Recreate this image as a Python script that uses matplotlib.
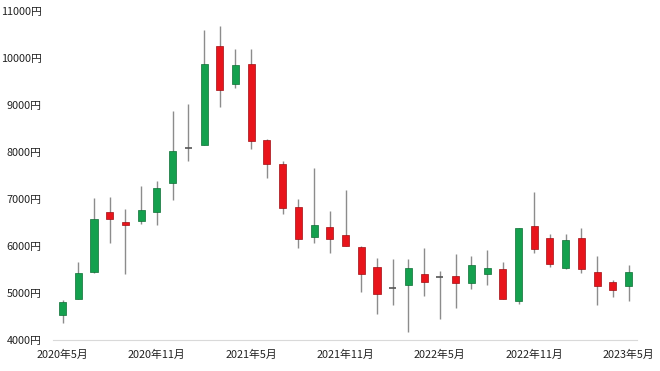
import matplotlib.pyplot as plt
import matplotlib as mpl

plt.rcParams['font.family'] = ['Noto Sans CJK JP', 'DejaVu Sans']
plt.rcParams['font.size'] = 7.8

# monthly OHLC, 2020-05 .. 2023-05
opens = [4540, 4880, 5440, 6720, 6500, 6530, 6720, 7330, 8085, 8150,
         10260, 9450, 9880, 8250, 7750, 6820, 6200, 6395, 6235, 5975,
         5545, 5112, 5160, 5410, 5340, 5355, 5205, 5400, 5500, 4835,
         6415, 6170, 5525, 6160, 5455, 5225, 5150]
highs = [4860, 5655, 7030, 7050, 6780, 7280, 7380, 8880, 9020, 10600,
         10670, 10200, 10180, 8280, 7815, 7000, 7665, 6740, 7185, 5995,
         5735, 5720, 5725, 5950, 5460, 5825, 5780, 5905, 5660, 6380,
         7150, 6265, 6245, 6380, 5780, 5285, 5590]
lows = [4360, 4870, 5430, 6070, 5400, 6460, 6440, 6980, 7810, 8140,
        8960, 9360, 8070, 7440, 6685, 5960, 6055, 5860, 5990, 5030,
        4560, 4735, 4180, 4935, 4450, 4670, 5085, 5165, 4875, 4760,
        5855, 5555, 5520, 5425, 4735, 4915, 4830]
closes = [4800, 5425, 6570, 6570, 6440, 6760, 7240, 8030, 8085, 9870,
          9320, 9850, 8240, 7745, 6810, 6150, 6440, 6145, 5995, 5405,
          4985, 5112, 5540, 5240, 5340, 5205, 5585, 5540, 4880, 6375,
          5925, 5620, 6125, 5500, 5150, 5065, 5445]
tick_pos = [0, 6, 12, 18, 24, 30, 36]
tick_labels = ['2020年5月', '2020年11月', '2021年5月', '2021年11月',
               '2022年5月', '2022年11月', '2023年5月']
yticks = [4000, 5000, 6000, 7000, 8000, 9000, 10000, 11000]

green = '#14a04e'
red = '#e8141b'

fig = plt.figure(figsize=(6.6, 3.71), dpi=100)
ax = fig.add_axes([0.080, 0.0836, 0.885, 0.887])

x = list(range(len(opens)))
ax.vlines(x, lows, highs, color='#8c8c8c', linewidth=1.0, zorder=1)

for i in x:
    o, c = opens[i], closes[i]
    if o == c:
        ax.hlines(o, i - 0.22, i + 0.22, color='#555555', linewidth=1.2,
                  zorder=2)
        continue
    col = green if c > o else red
    edge = '#0d6e35' if c > o else '#a00d12'
    ax.bar(i, abs(c - o), bottom=min(o, c), width=0.45, color=col,
           edgecolor=edge, linewidth=0.5, zorder=2)

ax.set_xlim(-0.62, 36.53)
ax.set_ylim(4000, 11000)
ax.set_yticks(yticks)
ax.set_yticklabels([str(v) + '円' for v in yticks])
ax.set_xticks(tick_pos)
ax.set_xticklabels(tick_labels)
ax.tick_params(length=0, colors='#222222')
ax.tick_params(axis='y', pad=8)
ax.tick_params(axis='x', pad=7)

for s in ['top', 'right', 'left']:
    ax.spines[s].set_visible(False)
ax.spines['bottom'].set_color('#d9d9d9')
ax.spines['bottom'].set_linewidth(0.8)

plt.savefig('out.png', dpi=100)
